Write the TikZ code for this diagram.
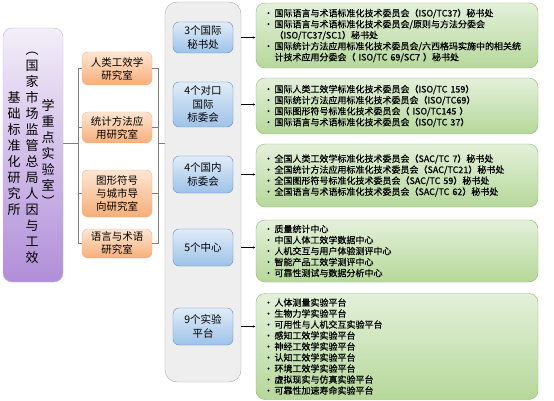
\documentclass[tikz,border=0pt]{standalone}
\usepackage{fontspec}
\setmainfont{Noto Sans CJK SC}
\newfontfamily\gfont{Noto Sans CJK SC}[FakeBold=0.6]
\usetikzlibrary{shadings,arrows.meta}
\definecolor{purT}{HTML}{F3EEF9}
\definecolor{purB}{HTML}{B08ED8}
\definecolor{purD}{HTML}{C8B0E2}
\definecolor{orT}{HTML}{FDE6D3}
\definecolor{orB}{HTML}{F6AE78}
\definecolor{orD}{HTML}{F3B086}
\definecolor{blT}{HTML}{E0ECF8}
\definecolor{blB}{HTML}{9EC2E8}
\definecolor{blD}{HTML}{5E8CC2}
\definecolor{grT}{HTML}{E3F0DA}
\definecolor{grB}{HTML}{B6D89A}
\definecolor{grD}{HTML}{8CB86E}
\definecolor{gyF}{HTML}{EEEEEE}
\definecolor{gyD}{HTML}{A8A8A8}
\definecolor{lineC}{HTML}{7F7F7F}
\newcommand\bu{•\,}
\newcommand\ind{\phantom{•\,}}
\begin{document}
\begin{tikzpicture}[x=1pt,y=-1pt,
  purplebox/.style={draw=purD, rounded corners=9pt, top color=purT, bottom color=purB, minimum width=60pt, minimum height=254pt, inner sep=0pt},
  orangebox/.style={draw=orD, rounded corners=6pt, top color=orT, bottom color=orB, minimum width=70pt, align=center, inner sep=0pt, font=\fontsize{10.5}{13}\selectfont},
  bluebox/.style={draw=blD, rounded corners=6pt, top color=blT, bottom color=blB, minimum width=60pt, align=center, inner sep=0pt, font=\fontsize{10.5}{13.5}\selectfont},
  graybox/.style={draw=gyD, rounded corners=12pt, fill=gyF, minimum width=76pt, minimum height=380pt, inner sep=0pt},
  greenbox/.style={draw=grD, rounded corners=9pt, top color=grT, bottom color=grB, text width=266pt, inner xsep=8pt, inner ysep=0pt, align=left, font=\gfont\fontsize{9}{11}\selectfont},
  conn/.style={draw=lineC, line width=0.7pt},
  arr/.style={draw=black, line width=0.6pt, -{Latex[length=3pt,width=2.5pt]}}
]
\useasboundingbox (0,0) rectangle (554,401);

% left purple box
\node[purplebox] (purple) at (33,155) {};
\node[inner sep=0pt, font=\fontsize{13}{16}\selectfont] (ptext) at (31,155) {%
\renewcommand{\arraystretch}{1}%
\begin{tabular}{@{}c@{\hspace{5pt}}c@{\hspace{3pt}}c@{}}
\begin{tabular}[c]{@{}c@{}}基\\础\\标\\准\\化\\研\\究\\所\end{tabular} &
\begin{tabular}[c]{@{}c@{}}︵\\国\\家\\市\\场\\监\\管\\总\\局\\人\\因\\与\\工\\效\end{tabular} &
\begin{tabular}[c]{@{}c@{}}学\\重\\点\\实\\验\\室\\︶\end{tabular}
\end{tabular}};

% orange boxes
\node[orangebox, minimum height=33pt] (o1) at (117,68.5) {人类工效学\\研究室};
\node[orangebox, minimum height=31pt] (o2) at (117,127.5) {统计方法应\\用研究室};
\node[orangebox, minimum height=47pt] (o3) at (117,193.5) {图形符号\\与城市导\\向研究室};
\node[orangebox, minimum height=29pt] (o4) at (117,243.5) {语言与术语\\研究室};

% gray container
\node[graybox] (gray) at (203,192) {};

% blue boxes
\node[bluebox, minimum height=31pt] (b1) at (203,37.5) {3个国际\\秘书处};
\node[bluebox, minimum height=45pt] (b2) at (203,104.5) {4个对口\\国际\\标委会};
\node[bluebox, minimum height=37pt] (b3) at (203,174.5) {4个国内\\标委会};
\node[bluebox, minimum height=37pt] (b4) at (203,247.5) {5个中心};
\node[bluebox, minimum height=37pt] (b5) at (203,326.5) {9个实验\\平台};

% green boxes
\node[greenbox, minimum height=65pt] (g1) at (397,35.5) {%
\bu 国际语言与术语标准化技术委员会（ISO/TC37）秘书处\\
\bu 国际语言与术语标准化技术委员会/原则与方法分委会\\
\ind （ISO/TC37/SC1）秘书处\\
\bu 国际统计方法应用标准化技术委员会/六西格玛实施中的相关统\\
\ind 计技术应用分委会（ ISO/TC 69/SC7 ）秘书处};
\node[greenbox, minimum height=56pt] (g2) at (397,106) {%
\bu 国际人类工效学标准化技术委员会（ISO/TC 159）\\
\bu 国际统计方法应用标准化技术委员会（ISO/TC69）\\
\bu 国际图形符号标准化技术委员会（ ISO/TC145 ）\\
\bu 国际语言与术语标准化技术委员会（ISO/TC 37）};
\node[greenbox, minimum height=63pt] (g3) at (397,175.5) {%
\bu 全国人类工效学标准化技术委员会（SAC/TC 7）秘书处\\
\bu 全国统计方法应用标准化技术委员会（SAC/TC21）秘书处\\
\bu 全国图形符号标准化技术委员会（SAC/TC 59）秘书处\\
\bu 全国语言与术语标准化技术委员会（SAC/TC 62）秘书处};
\node[greenbox, minimum height=62pt] (g4) at (397,251) {%
\bu 质量统计中心\\
\bu 中国人体工效学数据中心\\
\bu 人机交互与用户体验测评中心\\
\bu 智能产品工效学测评中心\\
\bu 可靠性测试与数据分析中心};
\node[greenbox, minimum height=106pt] (g5) at (397,346.5) {%
\bu 人体测量实验平台\\
\bu 生物力学实验平台\\
\bu 可用性与人机交互实验平台\\
\bu 感知工效学实验平台\\
\bu 神经工效学实验平台\\
\bu 认知工效学实验平台\\
\bu 环境工效学实验平台\\
\bu 虚拟现实与仿真实验平台\\
\bu 可靠性加速寿命实验平台};

% connectors
\coordinate (jl) at (78,143);
\coordinate (jr) at (158,143);
\draw[conn] (purple.east |- jl) -- (jl);
\foreach \o in {o1,o2,o3,o4}{
  \draw[conn] (\o.west) -| (jl);
  \draw[conn] (\o.east) -| (jr);
}
\draw[conn] (jr) -- (gray.west |- jr);

% arrows
\foreach \b/\g in {b1/g1,b2/g2,b3/g3,b4/g4,b5/g5}{
  \draw[arr] (gray.east |- \b.east) -- (\g.west |- \b.east);
}
\end{tikzpicture}
\end{document}
